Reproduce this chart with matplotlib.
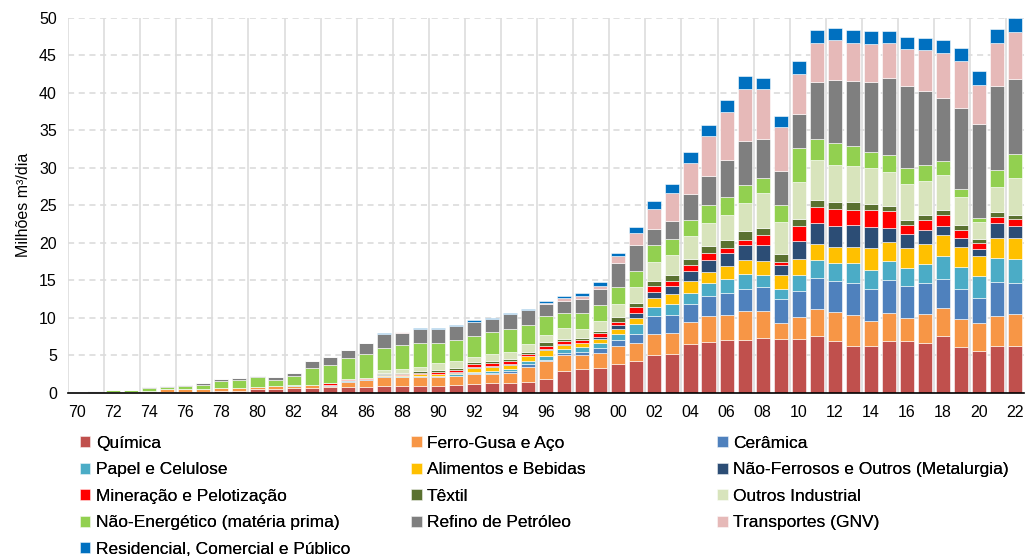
import matplotlib
matplotlib.use("Agg")
import matplotlib.pyplot as plt
import numpy as np

plt.rcParams['font.family'] = ['Liberation Sans', 'DejaVu Sans']

YEARS = list(range(1970, 2023))
TICK_LABELS = ["%02d" % (y % 100) for y in YEARS]

QUIMICA = [0, 0, 0.02, 0.02, 0.05, 0.05, 0.1, 0.15, 0.25, 0.3,
           0.5, 0.5, 0.6, 0.7, 0.75, 0.8, 0.8, 0.95, 0.9, 0.95,
           0.85, 1.05, 1.2, 1.33, 1.3, 1.5, 1.9, 2.85, 3.15, 3.3,
           3.9, 4.2, 5.05, 5.15, 6.5, 6.75, 7.0, 7.0, 7.3, 7.15,
           7.15, 7.6, 6.85, 6.27, 6.27, 6.85, 6.85, 6.7, 7.6, 6.05,
           5.6, 6.2, 6.2]
FERRO = [0, 0.05, 0.05, 0.05, 0.25, 0.4, 0.35, 0.4, 0.4, 0.4,
         0.3, 0.35, 0.3, 0.3, 0.2, 0.7, 0.95, 1.15, 1.15, 1.15,
         1.25, 1.15, 1.25, 1.12, 1.4, 2.0, 2.3, 2.2, 1.9, 2.0,
         2.3, 2.4, 2.8, 2.8, 2.9, 3.55, 3.4, 3.9, 3.6, 2.15,
         2.9, 3.55, 3.9, 4.13, 3.33, 3.85, 3.15, 3.75, 3.7, 3.85,
         3.7, 4.1, 4.3]
CERAMICA = [0, 0, 0, 0, 0, 0, 0, 0, 0, 0,
            0, 0, 0.05, 0, 0.1, 0.1, 0.05, 0.1, 0.1, 0.1,
            0.1, 0.1, 0.15, 0.2, 0.2, 0.3, 0.2, 0.3, 0.35, 0.65,
            0.9, 1.25, 2.35, 2.45, 2.5, 2.6, 2.9, 3.0, 3.2, 3.15,
            3.55, 4.15, 4.1, 4.3, 4.3, 4.3, 4.3, 4.15, 3.9, 4.0,
            3.4, 4.5, 4.1]
PAPEL = [0, 0, 0, 0, 0, 0, 0, 0, 0, 0,
         0, 0, 0.05, 0, 0.05, 0.05, 0.05, 0.1, 0.1, 0.1,
         0.1, 0.2, 0.2, 0.3, 0.25, 0.4, 0.5, 0.5, 0.65, 0.65,
         0.8, 1.3, 1.2, 1.45, 1.4, 1.7, 1.85, 2.0, 1.6, 1.4,
         2.1, 2.4, 2.45, 2.6, 2.5, 2.6, 2.4, 2.6, 3.1, 2.9,
         2.9, 3.2, 3.3]
ALIMENTOS = [0, 0, 0, 0, 0, 0, 0, 0, 0, 0,
             0, 0, 0, 0, 0, 0, 0, 0.1, 0.1, 0.15,
             0.2, 0.2, 0.5, 0.5, 0.55, 0.65, 0.85, 0.55, 0.55, 0.6,
             0.65, 0.8, 1.3, 1.3, 1.6, 1.5, 1.7, 1.8, 1.85, 1.85,
             2.2, 2.2, 2.2, 2.1, 2.85, 2.5, 2.6, 2.7, 2.7, 2.6,
             2.6, 2.7, 2.8]
NAO_FERROSOS = [0, 0, 0, 0, 0, 0, 0, 0, 0, 0,
                0, 0, 0, 0, 0, 0, 0, 0.05, 0.05, 0.05,
                0.05, 0.1, 0.15, 0.15, 0.15, 0.1, 0.1, 0.15, 0.1, 0.3,
                0.45, 0.65, 0.8, 1.15, 1.4, 1.6, 1.75, 2.0, 2.15, 1.3,
                2.3, 2.7, 2.8, 3.0, 2.85, 1.9, 1.9, 1.8, 1.3, 1.3,
                1.0, 1.9, 1.6]
MINERACAO = [0, 0, 0, 0, 0, 0, 0, 0, 0, 0,
             0, 0, 0, 0, 0.2, 0.25, 0.15, 0.1, 0.15, 0.2,
             0.25, 0.3, 0.4, 0.4, 0.4, 0.2, 0.35, 0.4, 0.35, 0.45,
             0.5, 0.8, 0.7, 0.55, 0.7, 0.9, 0.75, 0.7, 1.3, 0.5,
             2.0, 2.15, 2.2, 2.0, 2.3, 2.2, 1.2, 1.3, 1.4, 1.0,
             0.77, 0.9, 0.9]
TEXTIL = [0, 0, 0, 0, 0, 0, 0, 0, 0, 0,
          0, 0, 0, 0, 0, 0, 0, 0.1, 0.1, 0.15,
          0.2, 0.15, 0.3, 0.3, 0.3, 0.25, 0.55, 0.2, 0.25, 0.3,
          0.55, 0.55, 0.65, 0.9, 0.9, 1.0, 1.05, 1.15, 1.0, 1.0,
          0.95, 0.95, 0.9, 1.0, 0.8, 0.65, 0.6, 0.7, 0.7, 0.7,
          0.53, 0.55, 0.5]
OUTROS_IND = [0, 0, 0, 0, 0, 0, 0, 0, 0, 0,
              0, 0, 0, 0, 0, 0, 0, 0.4, 0.55, 0.55,
              0.95, 1.05, 0.6, 0.9, 0.95, 1.1, 1.0, 1.55, 1.2, 1.35,
              1.8, 2.2, 2.55, 2.65, 2.95, 3.1, 3.3, 3.75, 4.6, 4.25,
              4.95, 5.3, 5.0, 4.9, 4.8, 4.65, 4.8, 4.6, 4.6, 3.7,
              2.3, 3.35, 5.0]
NAO_ENERG = [0.05, 0.05, 0.25, 0.27, 0.4, 0.33, 0.5, 0.5, 0.95, 1.05,
             1.25, 0.9, 1.3, 2.3, 2.4, 2.7, 3.15, 2.95, 3.15, 3.2,
             2.65, 2.8, 2.85, 2.85, 3.0, 2.5, 2.45, 2.0, 2.2, 2.15,
             2.3, 2.1, 2.3, 2.15, 2.25, 2.3, 2.4, 2.4, 2.1, 2.25,
             4.6, 2.8, 2.9, 2.55, 2.1, 2.15, 2.2, 2.1, 1.85, 1.1,
             0.5, 2.3, 3.2]
REFINO = [0, 0.1, 0.08, 0.08, 0.1, 0.15, 0.15, 0.2, 0.2, 0.2,
          0.15, 0.3, 0.3, 0.9, 1.05, 1.1, 1.45, 1.9, 1.65, 1.9,
          1.9, 1.8, 1.8, 1.75, 1.95, 2.0, 1.65, 1.6, 1.8, 2.15,
          3.2, 3.45, 2.1, 2.3, 3.35, 3.85, 4.9, 5.85, 5.2, 4.55,
          4.45, 7.6, 8.4, 8.75, 9.4, 10.3, 10.85, 9.9, 8.45, 10.8,
          12.6, 11.15, 10.0]
TRANSPORTES = [0, 0, 0, 0, 0, 0, 0, 0, 0, 0,
               0, 0, 0, 0, 0, 0, 0, 0, 0.05, 0,
               0, 0.05, 0.1, 0, 0, 0.05, 0.15, 0.3, 0.35, 0.4,
               0.9, 1.55, 2.7, 3.8, 4.2, 5.45, 6.4, 6.95, 6.6, 5.85,
               5.35, 5.3, 5.3, 5.1, 5.0, 4.75, 4.95, 5.35, 6.0, 6.3,
               5.17, 5.85, 6.2]
RESIDENCIAL = [0, 0, 0, 0, 0, 0, 0, 0, 0, 0,
               0, 0, 0, 0, 0, 0, 0, 0.05, 0.05, 0.1,
               0.1, 0.12, 0.15, 0.15, 0.15, 0.1, 0.2, 0.25, 0.45, 0.45,
               0.45, 0.85, 1.05, 1.2, 1.45, 1.4, 1.6, 1.8, 1.45, 1.45,
               1.7, 1.7, 1.6, 1.7, 1.8, 1.6, 1.7, 1.6, 1.7, 1.65,
               1.78, 1.8, 1.86]

SERIES = [
    ("Química", QUIMICA, "#C0504D"),
    ("Ferro-Gusa e Aço", FERRO, "#F79646"),
    ("Cerâmica", CERAMICA, "#4F81BD"),
    ("Papel e Celulose", PAPEL, "#4BACC6"),
    ("Alimentos e Bebidas", ALIMENTOS, "#FFC000"),
    ("Não-Ferrosos e Outros (Metalurgia)", NAO_FERROSOS, "#2C4D75"),
    ("Mineração e Pelotização", MINERACAO, "#FF0000"),
    ("Têxtil", TEXTIL, "#5A7130"),
    ("Outros Industrial", OUTROS_IND, "#D8E4BC"),
    ("Não-Energético (matéria prima)", NAO_ENERG, "#92D050"),
    ("Refino de Petróleo", REFINO, "#7F7F7F"),
    ("Transportes (GNV)", TRANSPORTES, "#E6B9B8"),
    ("Residencial, Comercial e Público", RESIDENCIAL, "#0070C0"),
]

fig = plt.figure(figsize=(10.26, 5.58), dpi=100)
ax = fig.add_axes([0.0663, 0.296, 0.932, 0.672])

x = np.arange(len(YEARS))
bottom = np.zeros(len(YEARS))
handles = []
for name, vals, color in SERIES:
    vals = np.array(vals, dtype=float)
    b = ax.bar(x, vals, 0.78, bottom=bottom, color=color, edgecolor='white',
               linewidth=0.4, label=name, zorder=3)
    handles.append(b)
    bottom += vals

ax.set_xlim(-0.5, len(YEARS) - 0.5)
ax.set_ylim(0, 50)
ax.set_yticks(range(0, 51, 5))
ax.set_xticks(x[::2])
ax.set_xticklabels(TICK_LABELS[::2])
ax.tick_params(axis='both', length=0, labelsize=11.5, colors='black')
ax.tick_params(axis='x', pad=9)
ax.tick_params(axis='y', pad=8)

for v in range(5, 51, 5):
    ax.axhline(v, color='#D9D9D9', linestyle=(0, (4, 3)), linewidth=1.1, zorder=1)
for xv in np.arange(-0.5, len(YEARS), 2):
    ax.axvline(xv, color='#DDDDDD', linewidth=1.2, zorder=1)

for s in ['top', 'right', 'left']:
    ax.spines[s].set_visible(False)
ax.spines['bottom'].set_color('black')
ax.spines['bottom'].set_linewidth(1.2)
ax.spines['bottom'].set_zorder(4)

ax.set_ylabel("Milhões m³/dia", fontsize=11.5, labelpad=6)

# legend written row by row, three fixed columns
col_x = [0.078, 0.401, 0.699]
for c in range(3):
    idx = list(range(c, len(SERIES), 3))
    leg = fig.legend([handles[i] for i in idx], [SERIES[i][0] for i in idx],
                     loc='upper left', bbox_to_anchor=(col_x[c], 0.219),
                     frameon=False, fontsize=12.5, handlelength=0.6,
                     handleheight=0.6, handletextpad=0.3, labelspacing=0.66,
                     borderaxespad=0, borderpad=0)
    fig.add_artist(leg)

fig.savefig("out.png", dpi=100)
